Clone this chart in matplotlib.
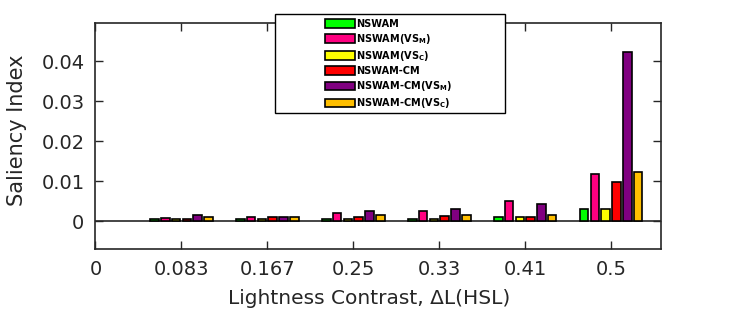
import matplotlib
matplotlib.use('Agg')
import matplotlib.pyplot as plt
from matplotlib.patches import Rectangle
import numpy as np

# Lightness contrast levels and saliency per method
contrast = ["0.083", "0.167", "0.25", "0.33", "0.41", "0.5"]
nswam = [0.0005, 0.0007, 0.0007, 0.0007, 0.0010, 0.0032]
nswam_vsm = [0.00075, 0.0010, 0.0020, 0.0027, 0.0050, 0.0119]
nswam_vsc = [0.0005, 0.0007, 0.0007, 0.0007, 0.0012, 0.0032]
nswam_cm = [0.0007, 0.0012, 0.0012, 0.0013, 0.0010, 0.0099]
nswam_cm_vsm = [0.0015, 0.0010, 0.0025, 0.0030, 0.0043, 0.0422]
nswam_cm_vsc = [0.0010, 0.0010, 0.0015, 0.0017, 0.0017, 0.0122]

series = [nswam, nswam_vsm, nswam_vsc, nswam_cm, nswam_cm_vsm, nswam_cm_vsc]
labels = [r'NSWAM', r'NSWAM(VS$_\mathbf{M}$)', r'NSWAM(VS$_\mathbf{C}$)',
          r'NSWAM-CM', r'NSWAM-CM(VS$_\mathbf{M}$)', r'NSWAM-CM(VS$_\mathbf{C}$)']
colors = ['#00ff00', '#ff0080', '#ffff00', '#ff0000', '#800080', '#ffbf00']

W, H = 730, 312
fig = plt.figure(figsize=(W / 100, H / 100), dpi=100)
ax = fig.add_axes([95.5/W, 1 - 249/H, (661-95.5)/W, (249-23)/H])

x = np.arange(1, len(contrast) + 1)
pitch = 0.1256
width = 0.1
for i, (vals, lab, col) in enumerate(zip(series, labels, colors)):
    off = (i - 2.5) * pitch
    ax.bar(x + off, vals, width, color=col, edgecolor='black', linewidth=1.2,
           label=lab, zorder=3)

ax.axhline(0, color='#262626', linewidth=1.2, zorder=2)

ax.set_xlim(0, 6.58)
ax.set_ylim(-0.0069, 0.0495)
ax.set_xticks(np.arange(0, 7))
ax.set_xticklabels(["0"] + contrast)
ax.set_yticks([0, 0.01, 0.02, 0.03, 0.04])
ax.set_yticklabels(["0", "0.01", "0.02", "0.03", "0.04"])

ax.tick_params(direction='in', top=True, right=True, length=6, width=1,
               colors='#262626', labelsize=14, pad=8)
for s in ax.spines.values():
    s.set_color('#262626')
    s.set_linewidth(1.2)

ax.set_xlabel('Lightness Contrast, ΔL(HSL)', fontsize=14.5, color='#262626', labelpad=7)
ax.xaxis.label.set_x(0.483)
ax.set_ylabel('Saliency Index', fontsize=15, color='#262626', labelpad=10)
ax.yaxis.label.set_y(0.527)

# legend box drawn by hand, entries placed inside without frame
fig.patches.append(Rectangle((275/W, 1 - 113/H), 230/W, 99/H, transform=fig.transFigure,
                             facecolor='white', edgecolor='black', linewidth=1.0, zorder=5))
leg = fig.legend(loc='upper left', bbox_to_anchor=(317/W, 1 - 11/H),
                 prop={'weight': 'bold', 'size': 7}, frameon=False,
                 handlelength=3.1, handleheight=1.0,
                 borderpad=0.3, labelspacing=0.32, handletextpad=0.15)
leg.set_zorder(6)

plt.savefig('out.png', dpi=100)
